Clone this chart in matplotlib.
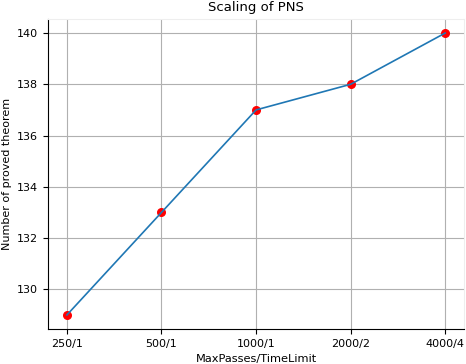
import matplotlib
matplotlib.use('Agg')
import matplotlib.pyplot as plt

# Data
settings = ['250/1', '500/1', '1000/1', '2000/2', '4000/4']
proved   = [129, 133, 137, 138, 140]

fig = plt.figure(figsize=(4.66, 3.64), dpi=100)
ax = fig.add_axes([0.103, 0.096, 0.893, 0.852])

x = list(range(len(settings)))
ax.scatter(x, proved, c='red', s=30, zorder=2)
ax.plot(x, proved, c='tab:blue', lw=1.2, zorder=3)

ax.set_xticks(x)
ax.set_xticklabels(settings)
ax.set_yticks([130, 132, 134, 136, 138, 140])
ax.tick_params(labelsize=8)
ax.grid(True, color='#b0b0b0', lw=0.8)
ax.set_axisbelow(True)
ax.spines['top'].set_color('#eeeeee')
ax.spines['right'].set_color('#eeeeee')

ax.set_title('Scaling of PNS', fontsize=9.5)
ax.set_xlabel('MaxPasses/TimeLimit', fontsize=8.2)
ax.set_ylabel('Number of proved theorem', fontsize=8)

fig.savefig('out.png', dpi=100)
